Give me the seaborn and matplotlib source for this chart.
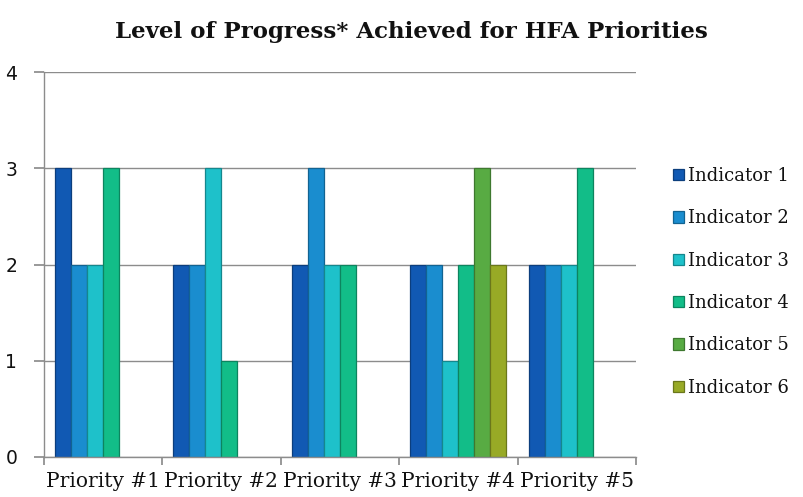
import numpy as np
import pandas as pd
import seaborn as sns
import matplotlib.pyplot as plt
from matplotlib.colors import to_rgb

priorities = ["Priority #1", "Priority #2", "Priority #3", "Priority #4", "Priority #5"]
indicators = ["Indicator 1", "Indicator 2", "Indicator 3", "Indicator 4", "Indicator 5", "Indicator 6"]
indicator_1 = [3, 2, 2, 2, 2]
indicator_2 = [2, 2, 3, 2, 2]
indicator_3 = [2, 3, 2, 1, 2]
indicator_4 = [3, 1, 2, 2, 3]
indicator_5 = [np.nan, np.nan, np.nan, 3, np.nan]
indicator_6 = [np.nan, np.nan, np.nan, 2, np.nan]
colors = ["#1159b3", "#1a8dcf", "#1ec1ca", "#12bd88", "#58ab43", "#98aa26"]

series = [indicator_1, indicator_2, indicator_3, indicator_4, indicator_5, indicator_6]
df = pd.DataFrame(
    [(p, ind, v) for ind, vals in zip(indicators, series) for p, v in zip(priorities, vals)],
    columns=["priority", "indicator", "level"],
)

sns.set_theme(style="white")
plt.rcParams["font.family"] = ["DejaVu Serif"]
plt.rcParams["text.color"] = "#111111"
plt.rcParams["xtick.color"] = "#111111"
plt.rcParams["ytick.color"] = "#111111"

fig = plt.figure(figsize=(8.04, 4.97), dpi=100)
ax = fig.add_axes([0.0542, 0.0805, 0.737, 0.7745])
sns.barplot(
    data=df, x="priority", y="level", hue="indicator",
    order=priorities, hue_order=indicators, palette=colors, saturation=1,
    width=0.81, errorbar=None, ax=ax, linewidth=0.9,
)
# darker edge on each bar, a rough stand-in for the bevel
for p in ax.patches:
    r, g, b = to_rgb(p.get_facecolor())
    p.set_edgecolor((r * 0.7, g * 0.7, b * 0.7))

ax.set_ylim(0, 4)
ax.set_xlim(-0.5, 4.5)
ax.set_yticks([0, 1, 2, 3, 4])
ax.yaxis.grid(True, color="#8c8c8c", linewidth=1)
ax.set_axisbelow(True)
ax.set_xlabel("")
ax.set_ylabel("")
for side in ["top", "right"]:
    ax.spines[side].set_visible(False)
for side in ["left", "bottom"]:
    ax.spines[side].set_color("#8c8c8c")
    ax.spines[side].set_linewidth(1)
ax.set_xticks(np.arange(-0.5, 5.0, 1.0), minor=False)
ax.set_xticklabels([])
ax.set_xticks(np.arange(5), minor=True)
ax.set_xticklabels(priorities, minor=True, fontsize=14.5)
ax.tick_params(axis="x", which="major", direction="out", length=6, color="#8c8c8c", bottom=True)
ax.tick_params(axis="x", which="minor", length=0, pad=11)
ax.tick_params(axis="y", direction="out", length=7, color="#8c8c8c", left=True, pad=12)
for lab in ax.get_yticklabels():
    lab.set_family("DejaVu Sans")
    lab.set_fontsize(13.5)

ax.legend(
    loc="center left", bbox_to_anchor=(1.035, 0.455), frameon=False,
    fontsize=13, handlelength=0.6, handleheight=0.6, handletextpad=0.25,
    labelspacing=1.35,
)

fig.suptitle("Level of Progress* Achieved for HFA Priorities",
             x=0.512, y=0.958, fontsize=16.5, fontweight="bold")

fig.savefig("out.png", dpi=100)
